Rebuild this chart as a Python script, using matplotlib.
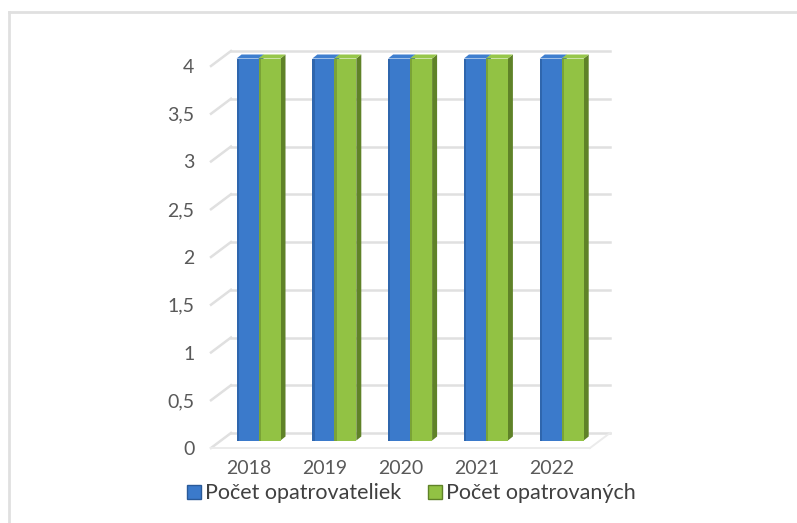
import numpy as np
import matplotlib
matplotlib.use("Agg")
import matplotlib.pyplot as plt
from matplotlib.patches import Polygon
from matplotlib.lines import Line2D

plt.rcParams["font.family"] = ["Lato", "DejaVu Sans"]

years = ["2018", "2019", "2020", "2021", "2022"]
opatrovatelky = [4, 4, 4, 4, 4]
opatrovani = [4, 4, 4, 4, 4]
series_names = ["Počet opatrovateliek", "Počet opatrovaných"]
yticks = [0, 0.5, 1, 1.5, 2, 2.5, 3, 3.5, 4]
ytick_labels = ["0", "0,5", "1", "1,5", "2", "2,5", "3", "3,5", "4"]

W, H = 797, 523
fig = plt.figure(figsize=(W / 100, H / 100), dpi=100)
ax = fig.add_axes([211 / W, (H - 448) / H, 379 / W, 382 / H])
ax.set_xlim(-0.5, 4.5)
ax.set_ylim(0, 4)

# pseudo-3D offsets in data units (back wall and bar mid-depth)
ux = 379 / 5.0          # px per x unit
uy = 382 / 4.0          # px per y unit
bx, by = 20 / ux, 15 / uy
mx, my = 10 / ux, 7.5 / uy
sx, sy = 5 / ux, 4 / uy  # bar depth

grid_c = "#e0e0e0"
for v in yticks:
    ax.plot([-0.5 + bx, 4.5 + bx], [v + by, v + by], color=grid_c, lw=1.8,
            clip_on=False, zorder=1)
    ax.plot([-0.5, -0.5 + bx], [v, v + by], color=grid_c, lw=1.8,
            clip_on=False, zorder=1)
# floor front edge
ax.plot([-0.5, 4.5], [0, 0], color="#ebebeb", lw=1.4, clip_on=False, zorder=1)
ax.plot([4.5, 4.5 + bx], [0, by], color="#ebebeb", lw=1.4, clip_on=False, zorder=1)

x = np.arange(len(years))
w = 0.29
styles = [
    (opatrovatelky, -0.15, "#3b7acb", "#2a5a99", "#3f7fcf", "#2f66ad"),
    (opatrovani, 0.14, "#92c244", "#5f8228", "#97c74a", "#7aa336"),
]
for k, (vals, off, face, side, top, edge) in enumerate(styles):
    for i, v in enumerate(vals):
        x0 = x[i] + off - w / 2 + mx
        x1 = x0 + w
        y0 = my
        y1 = v + my
        z = 3 + k
        ax.add_patch(Polygon([(x1, y0), (x1 + sx, y0 + sy), (x1 + sx, y1 + sy), (x1, y1)],
                             closed=True, facecolor=side, edgecolor="none",
                             clip_on=False, zorder=z))
        ax.add_patch(Polygon([(x0, y1), (x1, y1), (x1 + sx, y1 + sy), (x0 + sx, y1 + sy)],
                             closed=True, facecolor=top, edgecolor="none",
                             clip_on=False, zorder=z))
    ax.bar(x + off + mx, vals, width=w, bottom=my, color=face, edgecolor="none",
           zorder=3 + k, clip_on=False, label=series_names[k])
    # darker left edge of each column
    ax.bar(x + off + mx - w / 2 + 0.015, vals, width=0.03, bottom=my, color=edge,
           edgecolor="none", zorder=3 + k, clip_on=False)

for s in ax.spines.values():
    s.set_visible(False)
ax.set_xticks(x)
ax.set_xticklabels(years)
ax.set_yticks(yticks)
ax.set_yticklabels(ytick_labels)
ax.tick_params(length=0, labelsize=14, labelcolor="#595959")
ax.tick_params(axis="y", pad=12)
ax.tick_params(axis="x", pad=9)

handles = [Line2D([], [], marker="s", ls="none", markersize=10,
                  markerfacecolor=c, markeredgecolor=e)
           for c, e in [("#3b7acb", "#2a5a99"), ("#92c244", "#5f8228")]]
fig.legend(handles, series_names, loc="center", bbox_to_anchor=(0.515, 0.057),
           ncol=2, frameon=False, fontsize=15.5, handletextpad=0.1,
           columnspacing=1.2, handlelength=0.8, labelcolor="#404040")

# outer chart border (only top and left are visible)
fig.add_artist(Line2D([9 / W, 9 / W], [0, (H - 12) / H], color=grid_c, lw=2))
fig.add_artist(Line2D([9 / W, 1], [(H - 12) / H, (H - 12) / H], color=grid_c, lw=2))

fig.savefig("out.png", dpi=100)
